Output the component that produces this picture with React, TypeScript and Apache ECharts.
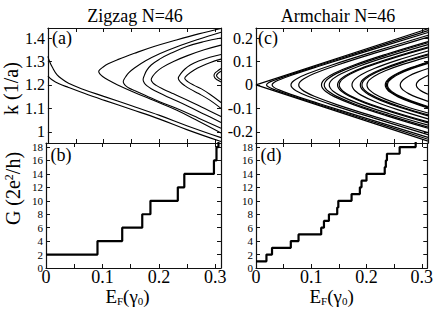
import React, { useEffect, useRef } from "react";
import * as echarts from "echarts";

const FONT = "Liberation Serif";

// ---- tick values ----
const energyTicks = [0, 0.05, 0.1, 0.15, 0.2, 0.25, 0.3];
const energyLabels = [0, 0.1, 0.2, 0.3];
const zigzagKTicks = [1, 1.1, 1.2, 1.3, 1.4];
const armchairKTicks = [-0.2, -0.1, 0, 0.1, 0.2];
const conductanceTicks = [0, 2, 4, 6, 8, 10, 12, 14, 16, 18];

// ---- conductance staircases [E_F, G] ----
const zigzagConductance: number[][] = [
  [0, 2], [0.0912, 4], [0.135, 6], [0.1705, 8], [0.185, 10], [0.2335, 12],
  [0.245, 14], [0.2975, 16], [0.302, 18], [0.3055, 20], [0.31, 20],
];
const armchairConductance: number[][] = [
  [0, 1], [0.0189, 2], [0.029, 3], [0.063, 4], [0.077, 5], [0.118, 6], [0.123, 7],
  [0.132, 8], [0.147, 9], [0.149, 10], [0.173, 11], [0.188, 12], [0.191, 13],
  [0.2, 14], [0.233, 15], [0.235, 16], [0.237, 17], [0.26, 18], [0.289, 20], [0.31, 20],
];

// ---- zigzag bands [E, k] ----
const zzEdgeA = [[0, 1.322], [0.003, 1.3], [0.008, 1.275], [0.0165, 1.243], [0.027, 1.222], [0.037, 1.207], [0.06, 1.184], [0.1, 1.151], [0.15, 1.111], [0.2, 1.07], [0.25, 1.025], [0.31, 0.975]];
const zzEdgeB = [[0, 1.238], [0.008, 1.221], [0.02, 1.205], [0.037, 1.189], [0.065, 1.164], [0.1, 1.135], [0.15, 1.095], [0.2, 1.054], [0.25, 1.008], [0.31, 0.958]];
const zzBand1 = [[0.31, 1.441], [0.27, 1.418], [0.23, 1.392], [0.19, 1.364], [0.155, 1.335], [0.125, 1.308], [0.108, 1.29], [0.098, 1.275], [0.093, 1.265], [0.091, 1.257], [0.093, 1.247], [0.098, 1.236], [0.108, 1.221], [0.125, 1.2], [0.155, 1.168], [0.19, 1.133], [0.23, 1.093], [0.27, 1.045], [0.31, 0.995]];
const zzBand2 = [[0.31, 1.425], [0.27, 1.395], [0.23, 1.362], [0.2, 1.333], [0.175, 1.303], [0.155, 1.272], [0.145, 1.252], [0.139, 1.234], [0.136, 1.222], [0.135, 1.214], [0.136, 1.206], [0.139, 1.197], [0.145, 1.187], [0.155, 1.176], [0.175, 1.155], [0.2, 1.128], [0.23, 1.1], [0.27, 1.058], [0.31, 1.015]];
const zzBand3 = [[0.31, 1.4], [0.28, 1.385], [0.25, 1.365], [0.22, 1.335], [0.2, 1.31], [0.185, 1.285], [0.177, 1.262], [0.173, 1.242], [0.1705, 1.222], [0.173, 1.207], [0.177, 1.197], [0.185, 1.184], [0.2, 1.165], [0.22, 1.143], [0.25, 1.11], [0.28, 1.075], [0.31, 1.04]];
const zzBand4 = [[0.31, 1.37], [0.28, 1.35], [0.25, 1.325], [0.225, 1.3], [0.205, 1.275], [0.194, 1.255], [0.188, 1.238], [0.185, 1.222], [0.188, 1.209], [0.194, 1.198], [0.205, 1.184], [0.225, 1.162], [0.25, 1.135], [0.28, 1.1], [0.31, 1.065]];
const zzBand5 = [[0.31, 1.33], [0.29, 1.318], [0.27, 1.302], [0.255, 1.285], [0.245, 1.267], [0.238, 1.248], [0.2335, 1.228], [0.238, 1.211], [0.245, 1.197], [0.255, 1.182], [0.27, 1.163], [0.29, 1.135], [0.31, 1.1]];
const zzBand6 = [[0.31, 1.31], [0.29, 1.295], [0.275, 1.28], [0.262, 1.264], [0.251, 1.245], [0.245, 1.228], [0.251, 1.213], [0.262, 1.198], [0.275, 1.183], [0.29, 1.16], [0.31, 1.125]];
const zzBand7 = [[0.31, 1.27], [0.303, 1.258], [0.299, 1.25], [0.2975, 1.24], [0.299, 1.23], [0.303, 1.222], [0.31, 1.212]];
const zzBand8 = [[0.31, 1.258], [0.305, 1.25], [0.302, 1.24], [0.305, 1.23], [0.31, 1.222]];
const zigzagBands = [zzEdgeA, zzEdgeB, zzBand1, zzBand2, zzBand3, zzBand4, zzBand5, zzBand6, zzBand7, zzBand8];

// ---- armchair bands, upper half [E, k] (lower half is the mirror image) ----
const acBand0 = [[0, 0], [0.31, 0.24]];
const acBands: number[][][] = [
  [[0.019, 0], [0.0219, 0.0082], [0.0306, 0.018], [0.0539, 0.0378], [0.1063, 0.0784], [0.1936, 0.1445], [0.31, 0.232]],
  [[0.029, 0], [0.0318, 0.0095], [0.0402, 0.0202], [0.0627, 0.0404], [0.1133, 0.0795], [0.1976, 0.1419], [0.31, 0.224]],
  [[0.063, 0], [0.0655, 0.0124], [0.0729, 0.0256], [0.0926, 0.0474], [0.1371, 0.085], [0.2112, 0.1408], [0.31, 0.212]],
  [[0.077, 0], [0.0793, 0.013], [0.0863, 0.0265], [0.105, 0.0485], [0.1469, 0.085], [0.2168, 0.1377], [0.31, 0.204]],
  [[0.118, 0], [0.1199, 0.0138], [0.1257, 0.0279], [0.141, 0.0499], [0.1756, 0.0839], [0.2332, 0.1298], [0.31, 0.185]],
  [[0.123, 0], [0.1249, 0.0136], [0.1305, 0.0275], [0.1454, 0.0491], [0.1791, 0.0824], [0.2352, 0.1268], [0.31, 0.18]],
  [[0.132, 0], [0.1338, 0.0133], [0.1391, 0.0269], [0.1534, 0.0479], [0.1854, 0.0798], [0.2388, 0.122], [0.31, 0.172]],
  [[0.147, 0], [0.1486, 0.013], [0.1535, 0.0263], [0.1666, 0.0465], [0.1959, 0.0769], [0.2448, 0.1162], [0.31, 0.162]],
  [[0.15, 0], [0.1516, 0.0128], [0.1564, 0.0258], [0.1692, 0.0456], [0.198, 0.0753], [0.246, 0.1136], [0.31, 0.158]],
  [[0.173, 0], [0.1744, 0.0123], [0.1785, 0.0247], [0.1894, 0.0435], [0.2141, 0.0711], [0.2552, 0.1058], [0.31, 0.145]],
  [[0.188, 0], [0.1892, 0.0115], [0.1929, 0.0231], [0.2026, 0.0405], [0.2246, 0.0658], [0.2612, 0.0971], [0.31, 0.132]],
  [[0.191, 0], [0.1922, 0.0112], [0.1958, 0.0225], [0.2053, 0.0394], [0.2267, 0.064], [0.2624, 0.0943], [0.31, 0.128]],
  [[0.2, 0], [0.2011, 0.0106], [0.2044, 0.0214], [0.2132, 0.0374], [0.233, 0.0606], [0.266, 0.0888], [0.31, 0.12]],
  [[0.233, 0], [0.2338, 0.0091], [0.2361, 0.0182], [0.2422, 0.0318], [0.2561, 0.0509], [0.2792, 0.0737], [0.31, 0.098]],
  [[0.235, 0], [0.2358, 0.0088], [0.238, 0.0177], [0.244, 0.0309], [0.2575, 0.0495], [0.28, 0.0715], [0.31, 0.095]],
  [[0.237, 0], [0.2377, 0.0086], [0.2399, 0.0172], [0.2458, 0.0299], [0.2589, 0.048], [0.2808, 0.0693], [0.31, 0.092]],
  [[0.26, 0], [0.2605, 0.0067], [0.262, 0.0134], [0.266, 0.0233], [0.275, 0.0371], [0.29, 0.0533], [0.31, 0.07]],
  [[0.289, 0], [0.2898, 0.0079], [0.2915, 0.0136], [0.2953, 0.0216], [0.3016, 0.0308], [0.31, 0.04]],
];

function mirrored(upper: number[][]): number[][] {
  const top = upper.slice().reverse();
  const bottom = upper.slice(1).map(([e, k]) => [e, -k]);
  return [...top, ...bottom];
}

const GRIDS = [
  { left: 46, top: 28, width: 175, height: 115 },
  { left: 46, top: 143, width: 175, height: 125 },
  { left: 256, top: 28, width: 172, height: 115 },
  { left: 256, top: 143, width: 172, height: 125 },
];

function axis(
  gridIndex: number,
  position: string,
  min: number,
  max: number,
  ticks: number[],
  labels: number[] | null,
  fontSize: number,
  margin: number,
  extra: any = {}
) {
  return {
    type: "value",
    gridIndex,
    position,
    min,
    max,
    axisLine: { show: true, onZero: false, lineStyle: { color: "#111", width: 1.2 } },
    axisTick: {
      show: true,
      inside: true,
      length: 4,
      customValues: ticks,
      lineStyle: { color: "#111", width: 1 },
    },
    axisLabel: labels
      ? {
          show: true,
          customValues: labels,
          showMinLabel: true,
          showMaxLabel: true,
          fontFamily: FONT,
          fontSize,
          lineHeight: fontSize,
          color: "#000",
          margin,
        }
      : { show: false },
    splitLine: { show: false },
    ...extra,
  };
}

export default function App() {
  const ref = useRef<HTMLDivElement>(null);
  useEffect(() => {
    if (!ref.current) return;
    const chart = echarts.init(ref.current, undefined, { renderer: "svg" });
    const EMAX = 0.31;
    const xName = (shiftLeft: number) => ({
      name: "{i|E}{s|F}{i|(γ}{s|0}{i|)}",
      nameLocation: "middle",
      nameGap: 9,
      nameTextStyle: {
        padding: [0, shiftLeft, 0, 0],
        rich: {
          i: { fontFamily: FONT, fontSize: 19, color: "#000", lineHeight: 20 },
          s: { fontFamily: FONT, fontSize: 11, color: "#000", verticalAlign: "bottom", lineHeight: 20 },
        },
      },
    });
    const xAxis = [
      axis(0, "bottom", 0, EMAX, energyTicks, null, 18, 0),
      axis(0, "top", 0, EMAX, energyTicks, null, 18, 0),
      axis(1, "bottom", 0, EMAX, energyTicks, energyLabels, 18, 0, xName(12)),
      axis(1, "top", 0, EMAX, energyTicks, null, 18, 0),
      axis(2, "bottom", 0, EMAX, energyTicks, null, 18, 0),
      axis(2, "top", 0, EMAX, energyTicks, null, 18, 0),
      axis(3, "bottom", 0, EMAX, energyTicks, energyLabels, 18, 0, xName(20)),
      axis(3, "top", 0, EMAX, energyTicks, null, 18, 0),
    ];
    const yAxis = [
      axis(0, "left", 0.952, 1.443, zigzagKTicks, zigzagKTicks, 16, 3, {
        name: "k (1/a)",
        nameLocation: "middle",
        nameGap: 26,
        nameTextStyle: { fontFamily: FONT, fontSize: 20, color: "#000", padding: [0, 6, 0, 0] },
      }),
      axis(0, "right", 0.952, 1.443, zigzagKTicks, null, 16, 3),
      axis(1, "left", 0, 18.6, conductanceTicks, conductanceTicks, 11, 3, {
        name: "{i|G (2e}{p|2}{i|/h)}",
        nameLocation: "middle",
        nameGap: 23,
        nameTextStyle: {
          padding: [0, 0, 0, 34],
          rich: {
            i: { fontFamily: FONT, fontSize: 20, color: "#000", lineHeight: 20 },
            p: { fontFamily: FONT, fontSize: 12, color: "#000", verticalAlign: "top", lineHeight: 20 },
          },
        },
      }),
      axis(1, "right", 0, 18.6, conductanceTicks, null, 11, 3),
      axis(2, "left", -0.248, 0.243, armchairKTicks, armchairKTicks, 16, 3),
      axis(2, "right", -0.248, 0.243, armchairKTicks, null, 16, 3),
      axis(3, "left", 0, 18.6, conductanceTicks, conductanceTicks, 11, 3),
      axis(3, "right", 0, 18.6, conductanceTicks, null, 11, 3),
    ];

    const curve = (data: number[][], gi: number, smooth: boolean | number, width: number) => ({
      type: "line",
      data,
      xAxisIndex: gi * 2,
      yAxisIndex: gi * 2,
      showSymbol: false,
      symbol: "none",
      smooth,
      silent: true,
      clip: true,
      lineStyle: { color: "#000", width },
    });

    const series: any[] = [];
    zigzagBands.forEach((b) => series.push(curve(b, 0, 0.4, 1.1)));
    series.push(curve(mirrored(acBand0), 2, false, 1.2));
    acBands.forEach((b) => series.push(curve(mirrored(b), 2, 0.4, 1.2)));
    series.push({
      type: "line",
      data: zigzagConductance,
      xAxisIndex: 2,
      yAxisIndex: 2,
      step: "end",
      showSymbol: false,
      symbol: "none",
      silent: true,
      clip: true,
      lineStyle: { color: "#000", width: 2.2 },
    });
    series.push({
      type: "line",
      data: armchairConductance,
      xAxisIndex: 6,
      yAxisIndex: 6,
      step: "end",
      showSymbol: false,
      symbol: "none",
      silent: true,
      clip: true,
      lineStyle: { color: "#000", width: 2.2 },
    });

    const txt = (text: string, x: number, y: number, size: number) => ({
      type: "text",
      x,
      y,
      silent: true,
      style: {
        text,
        fontFamily: FONT,
        fontSize: size,
        fill: "#000",
        align: "center",
        verticalAlign: "middle",
      },
    });

    chart.setOption({
      animation: false,
      backgroundColor: "#fff",
      textStyle: { fontFamily: FONT },
      grid: GRIDS,
      xAxis,
      yAxis,
      series,
      graphic: [
        txt("Zigzag N=46", 135, 16, 18),
        txt("Armchair N=46", 338, 16, 18),
        txt("(a)", 62, 38, 18),
        txt("(b)", 61, 155, 18),
        txt("(c)", 268, 38, 18),
        txt("(d)", 271, 155, 18),
      ],
    });
    return () => chart.dispose();
  }, []);
  return (
    <div
      ref={ref}
      style={{ position: "absolute", left: 0, top: 0, width: 436, height: 310 }}
    />
  );
}
